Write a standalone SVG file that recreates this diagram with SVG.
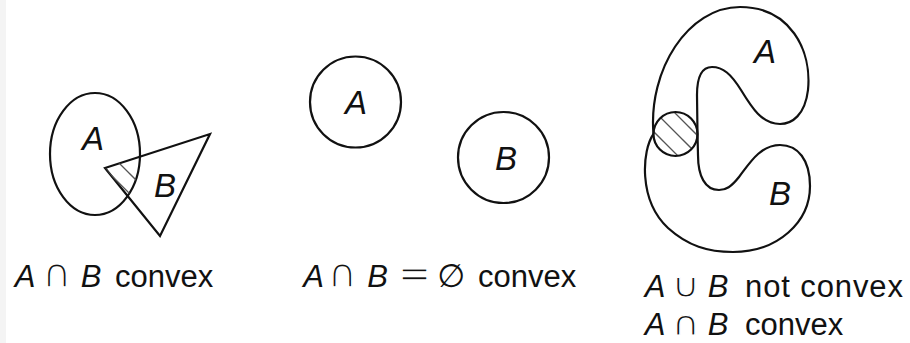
<svg xmlns="http://www.w3.org/2000/svg" width="910" height="343" viewBox="0 0 910 343">
  <style>
    .shape { fill: none; stroke: #111; stroke-width: 2.2; }
    .hatch { stroke: #555; stroke-width: 1.3; fill: none; }
    .lbl { font-family: "Liberation Sans", Arial, sans-serif; font-style: italic; font-size: 33px; fill: #111; text-anchor: middle; }
    .mi { font-family: "Liberation Sans", Arial, sans-serif; font-style: italic; font-size: 31px; fill: #111; text-anchor: middle; }
    .sym { font-family: "DejaVu Sans", sans-serif; font-size: 40px; fill: #111; text-anchor: middle; stroke: #ffffff; stroke-width: 1.5px; }
    .sym2 { font-family: "DejaVu Sans", sans-serif; font-size: 34px; fill: #111; text-anchor: middle; stroke: #ffffff; stroke-width: 1.2px; }
    .empty { font-family: "DejaVu Sans", sans-serif; font-size: 32px; fill: #111; text-anchor: middle; }
    .txt { font-family: "Liberation Sans", Arial, sans-serif; font-size: 31px; fill: #111; }
  </style>
  <defs>
    <clipPath id="clipEll"><ellipse cx="95" cy="154" rx="45" ry="61"/></clipPath>
    <clipPath id="clipTri"><polygon points="105,168 210,134 160,236"/></clipPath>
    <clipPath id="clipCirc"><circle cx="675.5" cy="134" r="22"/></clipPath>
  </defs>
  <rect x="0" y="0" width="910" height="343" fill="#ffffff"/>
  <rect x="0" y="0" width="6" height="343" fill="#f4f4f4"/>

  <!-- Panel 1 -->
  <g id="p1-A">
    <ellipse class="shape" cx="95" cy="154" rx="45" ry="61"/>
    <text class="lbl" x="93" y="150">A</text>
  </g>
  <g id="p1-B">
    <polygon class="shape" points="105,168 210,134 160,236"/>
    <text class="lbl" x="165" y="197">B</text>
  </g>
  <g id="p1-hatch" clip-path="url(#clipEll)">
    <g clip-path="url(#clipTri)">
      <line class="hatch" x1="90" y1="134" x2="160" y2="204"/>
      <line class="hatch" x1="90" y1="154" x2="160" y2="224"/>
    </g>
  </g>
  <g id="p1-caption">
    <text class="mi" x="25" y="287">A</text>
    <text class="sym" x="57" y="287">∩</text>
    <text class="mi" x="91" y="287">B</text>
    <text class="txt" x="115" y="287">convex</text>
  </g>

  <!-- Panel 2 -->
  <g id="p2-A">
    <circle class="shape" cx="355.5" cy="102" r="45.5"/>
    <text class="lbl" x="356" y="114">A</text>
  </g>
  <g id="p2-B">
    <circle class="shape" cx="503.5" cy="157.5" r="45.5"/>
    <text class="lbl" x="506" y="170">B</text>
  </g>
  <g id="p2-caption">
    <text class="mi" x="313.5" y="287">A</text>
    <text class="sym" x="342.5" y="287">∩</text>
    <text class="mi" x="377.5" y="287">B</text>
    <text class="sym" x="414.5" y="287" font-size="38">=</text>
    <text class="empty" x="451.5" y="287">∅</text>
    <text class="txt" x="478" y="287">convex</text>
  </g>

  <!-- Panel 3 -->
  <g id="p3-A">
    <path class="shape" d="M 653.5 134 C 648 70, 688 7, 740 7 C 790 7, 812 50, 808 90 C 805 115, 792 124, 780 124 C 762 124, 752 108, 741 90 C 731 74, 723 67, 712 67 C 701 67, 697 78, 697 95 L 697.5 134"/>
    <text class="lbl" x="765" y="63">A</text>
  </g>
  <g id="p3-B">
    <path class="shape" d="M 653.5 134 C 642 150, 638 200, 668 228 C 688 246, 708 252, 733 252 C 778 252, 810 222, 810 186 C 810 160, 798 145, 780 145 C 760 145, 749 164, 739 177 C 731 187, 726 190, 719 190 C 705 190, 698 176, 698 155 L 697.5 134"/>
    <text class="lbl" x="780" y="205">B</text>
  </g>
  <g id="p3-AcapB">
    <g clip-path="url(#clipCirc)">
      <line class="hatch" x1="640" y1="118" x2="710" y2="188"/>
      <line class="hatch" x1="640" y1="97" x2="710" y2="167"/>
      <line class="hatch" x1="640" y1="78" x2="710" y2="148"/>
    </g>
    <circle class="shape" cx="675.5" cy="134" r="22"/>
  </g>
  <g id="p3-caption">
    <text class="mi" x="655" y="297">A</text>
    <text class="sym2" transform="translate(686,297) scale(1.15,1)" x="0" y="0">∪</text>
    <text class="mi" x="718" y="297">B</text>
    <text class="txt" x="745" y="297" textLength="158" lengthAdjust="spacing">not convex</text>
    <text class="mi" x="655" y="335">A</text>
    <text class="sym2" transform="translate(686,335) scale(1.15,1)" x="0" y="0">∩</text>
    <text class="mi" x="718" y="335">B</text>
    <text class="txt" x="745" y="335">convex</text>
  </g>
</svg>
